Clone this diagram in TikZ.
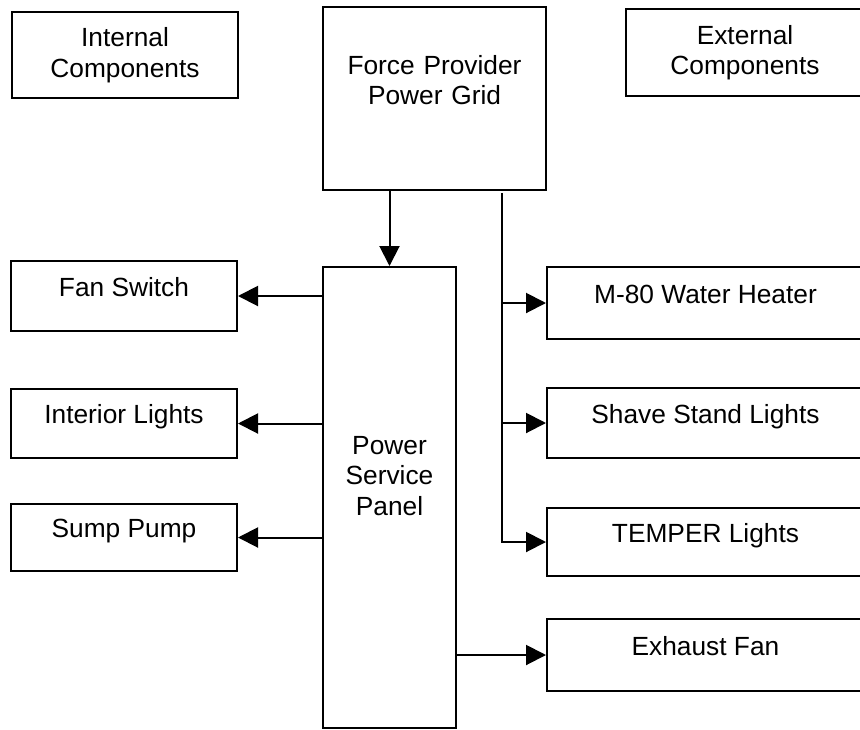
\documentclass[tikz,border=0pt]{standalone}
\usepackage{fontspec}
\setmainfont{Liberation Sans}
\usetikzlibrary{arrows.meta, positioning}

\begin{document}
\begin{tikzpicture}[x=1pt, y=-1pt, line width=2pt,
  box/.style={draw, inner sep=0pt, font=\fontsize{26.3}{30.5}\selectfont, align=center},
  unit/.style={box, text height=19pt, text depth=19pt},
  feed/.style={-{Triangle[length=20pt,width=20pt]}}]
\useasboundingbox (0,0) rectangle (860,729);

\node[box, minimum width=226pt, minimum height=86pt, text width=220pt] (intl) at (125,55) {Internal\\Components};
\node[box, minimum width=223pt, minimum height=183pt, text width=215pt, text height=20pt, text depth=69pt] (grid) at (434.5,98.5) {Force Provider\\Power Grid};
\node[box, minimum width=238pt, minimum height=87pt, text width=230pt] (extl) at (745,52.5) {External\\Components};
\node[box, minimum width=133pt, minimum height=461pt, text width=125pt, text height=20pt, text depth=107pt] (panel) at (389.5,497.5) {Power\\Service\\Panel};

\foreach \n/\y/\h/\t in {fan/296/70/Fan Switch, intr/423.5/69/Interior Lights, sump/537.5/67/Sump Pump} {
  \node[unit, minimum width=226pt, minimum height=\h pt] (\n) at (124,\y) {\t};
  \draw[feed] (panel.west |- \n.east) -- (\n.east);
}

\coordinate (bus) at (502,193);
\foreach \n/\y/\h/\t in {heater/303/72/M-80 Water Heater, shave/423/70/Shave Stand Lights, temper/542/68/TEMPER Lights, exfan/655/72/Exhaust Fan}
  \node[unit, minimum width=317pt, minimum height=\h pt] (\n) at (705.5,\y) {\t};

\draw[feed] (grid.south -| panel.north) -- (panel.north);
\draw[feed] (bus) |- (temper.west);
\foreach \n in {heater, shave} \draw[feed] (bus |- \n.west) -- (\n.west);
\draw[feed] (panel.east |- exfan.west) -- (exfan.west);
\end{tikzpicture}
\end{document}
